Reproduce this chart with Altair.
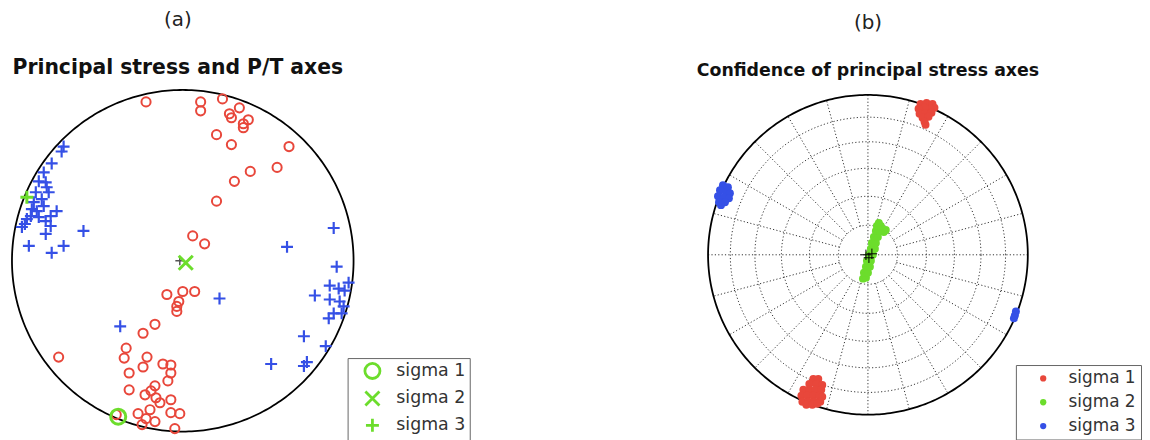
import altair as alt
import numpy as np
import pandas as pd

# ---------------- Panel (a): P/T axes, projected coordinates (net radius = 172 units)
R_A = 172
p_x = [-37, 18, 18, 40, 57, 47, 49, 66, 61, 61, 34, 49, 107, 95, 68, 52, 34, 10, 22,
       -16, 0, 12, -4, -6, -6, -28, -40, -57, -59, -36, -125, -54, -40, -20, -12, -12,
       -15, -54, -28, -32, -38, -27, -23, -33, -12, -12, -3, -45, -37, -28, -41, -8, -67]
p_y = [160, 160, 151, 163, 154, 148, 144, 142, 138, 134, 127, 117, 115, 94, 90, 80, 60, 25, 17,
       -34, -31, -31, -41, -46, -51, -64, -73, -88, -98, -97, -97, -113, -107, -104, -105, -113,
       -121, -130, -126, -131, -135, -138, -143, -150, -140, -153, -154, -154, -159, -162, -165, -169, -155]
t_x = [-120, -122, -132, -140, -145, -138, -137, -135, -148, -142, -150, -140, -147, -127,
       -133, -153, -157, -138, -159, -133, -162, -138, -100, -155, -120, -132, -145, -152, -63,
       152, 105, 155, 37, 148, 157, 167, 163, 133, 148, 158, 162, 152, 147, 160, 122, 144, 89, 122, 125]
t_y = [115, 110, 98, 89, 80, 79, 74, 69, 69, 62, 59, 55, 50, 50,
       45, 45, 42, 40, 37, 35, 34, 27, 30, 15, 15, 8, 44, 52, -66,
       33, 14, -6, -38, -25, -28, -22, -30, -35, -39, -41, -46, -53, -58, -53, -76, -86, -104, -106, -102]
sigma_labels = ["sigma 1", "sigma 2", "sigma 3"]
sigma_a_x = [-65, 3, -157]
sigma_a_y = [-157, -2, 64]
center_a_x = [-3]
center_a_y = [0]

# ---------------- Panel (b): confidence clouds (net radius = 161 units)
R_B = 161
s1_x = [53, 59, 65, 67, 63, 57, 51, 52, 58, 64, 55, 61, 57, 58,
        -55, -50, -59, -52, -46, -65, -59, -53, -47, -67, -61, -55, -49, -46, -66, -60, -54, -48, -62, -56, -51]
s1_y = [152, 153, 152, 148, 147, 148, 147, 142, 142, 143, 138, 139, 134, 131,
        -125, -125, -130, -130, -131, -136, -136, -136, -136, -142, -142, -142, -142, -143, -148, -148, -148, -148, -151, -151, -150]
s2_x = [-5, -2, -4, 0, -2, 2, -1, 3, 1, 5, 3, 7, 4, 8, 6, 10, 16, 18, 8, 12, 9, 13, 11]
s2_y = [-24, -23, -18, -18, -12, -12, -6, -6, 0, 0, 6, 6, 12, 12, 18, 18, 23, 25, 24, 24, 29, 29, 32]
s3_x = [-146, -141, -149, -143, -139, -151, -145, -140, -150, -144, -148, 149, 148, 147]
s3_y = [70, 68, 65, 63, 62, 59, 58, 57, 53, 53, 50, -57, -61, -64]
center_b_x = [-2, 4, 1]
center_b_y = [0, 1, -3]
ring_angles = [15, 30, 45, 60, 75]          # angle from vertical, equal-area rings
spoke_azimuths = list(range(0, 360, 15))

RED = "#e8473b"
BLUE = "#3550e6"
GREEN = "#6cdd2c"
PLUS = "M-1,0L1,0M0,-1L0,1"
XMARK = "M-1,-1L1,1M-1,1L1,-1"
FONT = "DejaVu Sans"


def circle_df(radius, n=361):
    a = np.radians(np.arange(n))
    return pd.DataFrame({"x": radius * np.cos(a), "y": radius * np.sin(a), "i": np.arange(n)})


# ---------- panel (a)
xa = alt.X("x:Q", scale=alt.Scale(domain=[-R_A, R_A]), axis=None)
ya = alt.Y("y:Q", scale=alt.Scale(domain=[-R_A, R_A]), axis=None)

outline_a = alt.Chart(circle_df(R_A)).mark_line(color="black", strokeWidth=1.8).encode(
    x=xa, y=ya, order="i:Q")
p_pts = alt.Chart(pd.DataFrame({"x": p_x, "y": p_y})).mark_point(
    shape="circle", filled=False, color=RED, size=85, strokeWidth=2, opacity=1).encode(x=xa, y=ya)
t_pts = alt.Chart(pd.DataFrame({"x": t_x, "y": t_y})).mark_point(
    shape=PLUS, filled=False, color=BLUE, size=144, strokeWidth=2.2, opacity=1).encode(x=xa, y=ya)
ctr_a = alt.Chart(pd.DataFrame({"x": center_a_x, "y": center_a_y})).mark_point(
    shape=PLUS, filled=False, color="#555", size=80, strokeWidth=1.5, opacity=1).encode(x=xa, y=ya)
sig_a = alt.Chart(pd.DataFrame({"x": sigma_a_x, "y": sigma_a_y, "s": sigma_labels})).mark_point(
    filled=False, color=GREEN, strokeWidth=3, opacity=1).encode(
    x=xa, y=ya,
    shape=alt.Shape("s:N", scale=alt.Scale(domain=sigma_labels, range=["circle", XMARK, PLUS]),
                    legend=alt.Legend(title=None, orient="none", legendX=338, legendY=270,
                                      strokeColor="#666", fillColor="white", padding=4,
                                      labelFont=FONT, labelFontSize=17.5, labelColor="#333",
                                      symbolOffset=12, labelOffset=15, rowPadding=1,
                                      symbolStrokeWidth=2.8)),
    size=alt.Size("s:N", scale=alt.Scale(domain=sigma_labels, range=[230, 170, 380]),
                  legend=alt.Legend(title=None, orient="none", legendX=338, legendY=270)))

panel_a = alt.layer(outline_a, p_pts, t_pts, ctr_a, sig_a).properties(
    width=344, height=344,
    title=alt.TitleParams(text="(a)", subtitle="Principal stress and P/T axes",
                          font=FONT, fontSize=20, fontWeight="normal", color="#222",
                          subtitleFont=FONT, subtitleFontSize=20.5, subtitleFontWeight="bold",
                          subtitleColor="#111", subtitlePadding=28, offset=8, anchor="middle",
                          dx=-5))

# ---------- panel (b)
xb = alt.X("x:Q", scale=alt.Scale(domain=[-170, 170]), axis=None)
yb = alt.Y("y:Q", scale=alt.Scale(domain=[-178, 166]), axis=None)

ring_rows = []
for k, ang in enumerate(ring_angles):
    r = R_B * np.sqrt(2) * np.sin(np.radians(ang) / 2)
    d = circle_df(r)
    d["g"] = k
    ring_rows.append(d)
rings = pd.concat(ring_rows)
r1 = R_B * np.sqrt(2) * np.sin(np.radians(ring_angles[0]) / 2)
spk = []
for k, az in enumerate(spoke_azimuths):
    start = 0 if az % 90 == 0 else r1
    a = np.radians(az)
    for j, rr in enumerate([start, R_B]):
        spk.append({"x": rr * np.sin(a), "y": rr * np.cos(a), "g": k, "i": j})
spokes = pd.DataFrame(spk)

grid_style = dict(color="#333", strokeWidth=1, strokeDash=[1.2, 2.2])
rings_ch = alt.Chart(rings).mark_line(**grid_style).encode(x=xb, y=yb, detail="g:N", order="i:Q")
spokes_ch = alt.Chart(spokes).mark_line(**grid_style).encode(x=xb, y=yb, detail="g:N", order="i:Q")
outline_b = alt.Chart(circle_df(R_B)).mark_line(color="black", strokeWidth=1.8).encode(
    x=xb, y=yb, order="i:Q")

cloud = pd.concat([
    pd.DataFrame({"x": s1_x, "y": s1_y, "s": sigma_labels[0]}),
    pd.DataFrame({"x": s2_x, "y": s2_y, "s": sigma_labels[1]}),
    pd.DataFrame({"x": s3_x, "y": s3_y, "s": sigma_labels[2]}),
])
cloud_ch = alt.Chart(cloud).mark_circle(size=64, opacity=1).encode(
    x=xb, y=yb,
    color=alt.Color("s:N", scale=alt.Scale(domain=sigma_labels, range=[RED, GREEN, BLUE]),
                    legend=alt.Legend(title=None, orient="none", legendX=319, legendY=277,
                                      strokeColor="#666", fillColor="white", padding=5,
                                      labelFont=FONT, labelFontSize=17, labelColor="#333",
                                      symbolType="circle", symbolSize=40, symbolOffset=14,
                                      labelOffset=17, rowPadding=6)))
ctr_b = alt.Chart(pd.DataFrame({"x": center_b_x, "y": center_b_y})).mark_point(
    shape=PLUS, filled=False, color="black", size=110, strokeWidth=1, opacity=1).encode(x=xb, y=yb)

panel_b = alt.layer(rings_ch, spokes_ch, outline_b, cloud_ch, ctr_b).properties(
    width=340, height=344,
    title=alt.TitleParams(text="(b)", subtitle="Confidence of principal stress axes",
                          font=FONT, fontSize=20, fontWeight="normal", color="#222",
                          subtitleFont=FONT, subtitleFontSize=17.5, subtitleFontWeight="bold",
                          subtitleColor="#111", subtitlePadding=29, offset=10.5, anchor="middle"))

chart = alt.hconcat(panel_a, panel_b, spacing=348, bounds="flush").resolve_scale(
    x="independent", y="independent", color="independent", shape="independent", size="independent"
).properties(padding=0, background="white").configure_view(stroke=None)

chart.save("out.html", embed_options={"renderer": "svg", "actions": False})
